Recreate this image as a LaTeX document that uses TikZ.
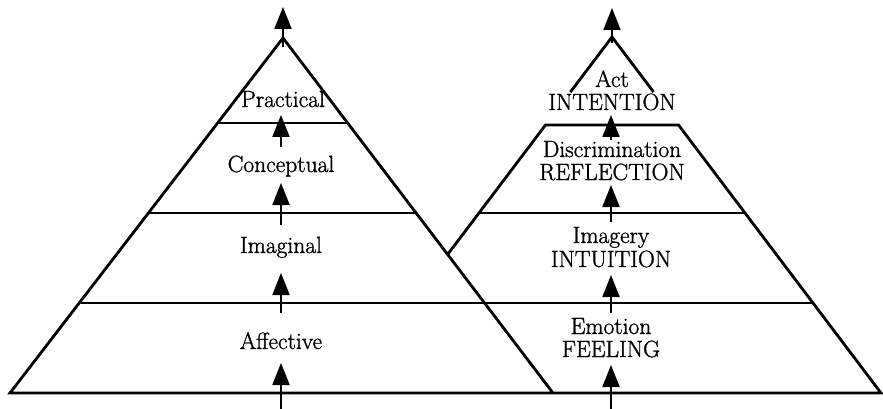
\documentclass[tikz,border=0pt]{standalone}
\usepackage{fontspec}
\newfontface\levelfont{Latin Modern Roman}[RawFeature={embolden=1.2}]
\usetikzlibrary{arrows.meta}

\begin{document}
\begin{tikzpicture}[x=1pt, y=-1pt, line width=2.8pt,
    up/.style={-{Triangle[width=17pt,length=22pt]}, line width=2pt},
    level/.style={anchor=base, inner sep=0pt, font=\levelfont\fontsize{23.5}{26}\selectfont}]

  \useasboundingbox (0,0) rectangle (883,409);

  % left pyramid
  \coordinate (ltop)   at (283,38);
  \coordinate (lleft)  at (10,393);
  \coordinate (lright) at (553,393);
  % right pyramid
  \coordinate (rtop)   at (612,37);
  \coordinate (rright) at (881,393);
  \coordinate (rcut)   at (448,254);

  \draw (lright) -- (ltop) -- (lleft) -- (rright) -- (678.5,125) -- (545.5,125) -- (rcut);
  \draw (570.4,92) -- (rtop) -- (653.6,92);
  \draw (218,123) -- (348,123);
  \draw (149.4,213) -- (416.6,213);
  \draw (479,213) -- (745,213);
  \draw (80.7,303) -- (813,303);

  % labels
  \node[level] (practical)  at (283,107) {Practical};
  \node[level] (conceptual) at (281,172) {Conceptual};
  \node[level] (imaginal)   at (281,253) {Imaginal};
  \node[level] (affective)  at (281,349) {Affective};

  \node[level] (act)            at (612,87)  {Act};
  \node[level] (intention)      at (612,110) {INTENTION};
  \node[level] (discrimination) at (612,157) {Discrimination};
  \node[level] (reflection)     at (612,180) {REFLECTION};
  \node[level] (imagery)        at (611,243) {Imagery};
  \node[level] (intuition)      at (611,267) {INTUITION};
  \node[level] (emotion)        at (611,334) {Emotion};
  \node[level] (feeling)        at (611,357) {FEELING};

  % arrows
  \coordinate (l0) at (281,409); \coordinate (l1) at (281,363);
  \coordinate (l2) at (281,313); \coordinate (l3) at (281,273);
  \coordinate (l4) at (281,225); \coordinate (l5) at (281,183);
  \coordinate (l6) at (281,147); \coordinate (l7) at (281,115);
  \coordinate (l8) at (283,47);  \coordinate (l9) at (283,7);

  \coordinate (r0) at (611,409); \coordinate (r1) at (611,365);
  \coordinate (r2) at (611,313); \coordinate (r3) at (611,275);
  \coordinate (r4) at (611,222); \coordinate (r5) at (611,185);
  \coordinate (r6) at (611,140); \coordinate (r7) at (611,115);
  \coordinate (r8) at (612,43);  \coordinate (r9) at (612,8);

  \draw[up] (l0) -- (l1);
  \draw[up] (l2) -- (l3);
  \draw[up] (l4) -- (l5);
  \draw[up] (l6) -- (l7);
  \draw[up] (l8) -- (l9);
  \draw[up] (r0) -- (r1);
  \draw[up] (r2) -- (r3);
  \draw[up] (r4) -- (r5);
  \draw[up] (r6) -- (r7);
  \draw[up] (r8) -- (r9);
\end{tikzpicture}
\end{document}
